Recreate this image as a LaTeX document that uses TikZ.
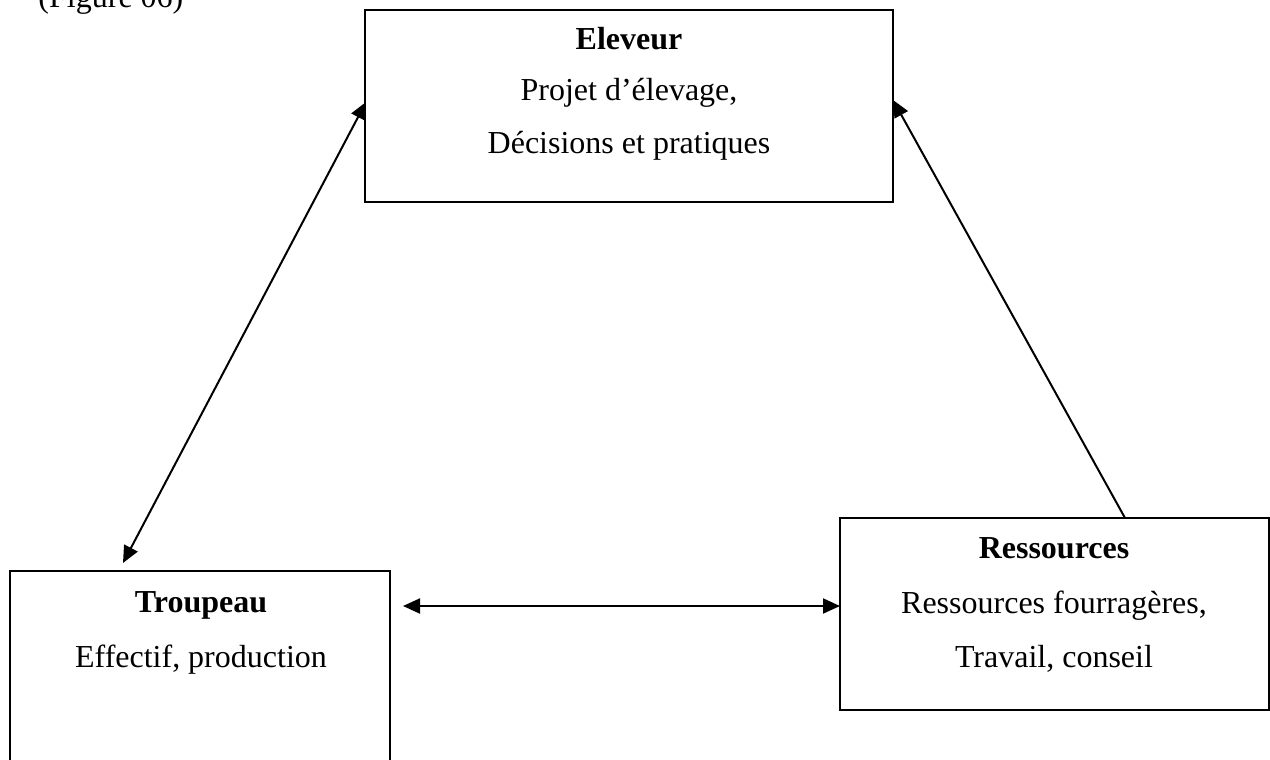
\documentclass[tikz,border=0pt]{standalone}
\usepackage{fontspec}
\setmainfont{Liberation Serif}
\usetikzlibrary{arrows.meta,calc}
\begin{document}
\begin{tikzpicture}[x=0.4pt,y=-0.4pt,
  box/.style={draw,line width=0.9pt,inner sep=0pt,outer sep=0pt,anchor=north west},
  lbl/.style={anchor=base,inner sep=0pt,font=\fontsize{12.8}{15}\selectfont},
  ttl/.style={anchor=base,inner sep=0pt,font=\fontsize{12.8}{15}\selectfont\bfseries},
  link/.style={line width=0.8pt,-{Triangle[length=6.8pt,width=6pt]}},
  biarrow/.style={line width=0.8pt,{Triangle[length=6.8pt,width=6pt]}-{Triangle[length=6.8pt,width=6pt]}}]
\useasboundingbox (0,0) rectangle (1270,759);
\clip (0,0) rectangle (1270,759);
\fill[white] (0,0) rectangle (1270,759);
% caption fragment
\node[lbl,anchor=base west] (fig) at (38,8) {(Figure 06)};
% boxes
\node[box,minimum width=211.2pt,minimum height=76.8pt] (ele) at (365,10) {};
\node[box,minimum width=152pt,minimum height=87.6pt] (tro) at (10,571) {};
\node[box,minimum width=171.6pt,minimum height=76.8pt] (res) at (840,518) {};
% texts
\node[ttl] (eleT) at (629,50) {Eleveur};
\node[lbl] (eleA) at (629,101) {Projet d’élevage,};
\node[lbl] (eleB) at (629,153) {Décisions et pratiques};
\node[ttl] (troT) at (201,612) {Troupeau};
\node[lbl] (troA) at (201,667) {Effectif, production};
\node[ttl] (resT) at (1054,558) {Ressources};
\node[lbl] (resA) at (1054,613) {Ressources fourragères,};
\node[lbl] (resB) at (1054,667) {Travail, conseil};
% connectors
\draw[biarrow] ($(tro.north west)+(113,-8)$) -- ($(ele.north west)+(1,92)$);
\draw[biarrow] ($(tro.north east)+(13,35)$) -- ($(res.north west)+(0,88)$);
\draw[link] ($(res.north west)+(285,0)$) -- ($(ele.north east)+(0,90)$);
\end{tikzpicture}
\end{document}
